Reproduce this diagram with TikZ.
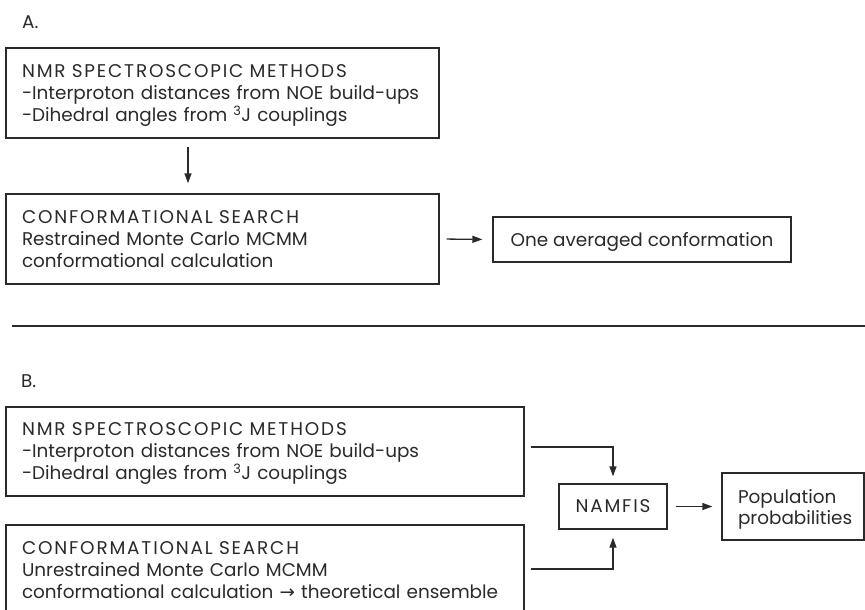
\documentclass[tikz,border=0pt]{standalone}
\usepackage{fontspec}
\setmainfont{Poppins}
\newfontfamily\capsfont{Poppins}[LetterSpace=10]
\newfontfamily\symfont{DejaVu Sans}
\usetikzlibrary{arrows.meta,calc}
\definecolor{ink}{HTML}{2A2A2A}
\newcommand{\nodepth}[1]{\raisebox{0pt}[\height][0pt]{#1}}
\begin{document}
\begin{tikzpicture}[x=1pt,y=-1pt,
  every node/.style={text=ink,font=\fontsize{18.4}{22}\selectfont},
  box/.style={draw=ink,line width=1.3pt,inner xsep=0pt,inner ysep=0pt},
  lbox/.style={box,align=left},
  cbox/.style={box,align=center},
  arr/.style={draw=ink,line width=1.3pt,-{Triangle[length=10pt,width=7pt]}}]
\clip (0,0) rectangle (865,610);
\fill[white] (0,0) rectangle (865,610);
\node[anchor=base west,inner sep=0pt] (la) at (22,29) {A.};
\node[lbox,text width=401pt,minimum width=433pt,minimum height=90pt] (A1) at (222.5,93)
  {\mbox{\capsfont NMR SPECTROSCOPIC METHODS}\\\mbox{-Interproton distances from NOE build-ups}\\\nodepth{-Dihedral angles from \textsuperscript{3}J couplings}};
\node[lbox,text width=401pt,minimum width=433pt,minimum height=90pt] (A2) at (222.5,239)
  {\mbox{\capsfont CONFORMATIONAL SEARCH}\\\mbox{Restrained Monte Carlo MCMM}\\\mbox{conformational calculation}};
\node[cbox,text depth=0pt,minimum width=298pt,minimum height=45pt] (A3) at (642,239.5) {One averaged conformation};
\draw[arr,shorten <=8pt,shorten >=10pt] ([xshift=-34.5pt]A1.south) -- ([xshift=-34.5pt]A2.north);
\draw[arr,shorten <=7pt,shorten >=10pt] (A2.east) -- (A3.west);
\coordinate (s1) at (12,326);
\coordinate (s2) at (865,326);
\draw[ink,line width=1.3pt] (s1) -- (s2);
\node[anchor=base west,inner sep=0pt] (lb) at (21,387) {B.};
\node[lbox,text width=486pt,minimum width=518pt,minimum height=89pt] (B1) at (265,451.5)
  {\mbox{\capsfont NMR SPECTROSCOPIC METHODS}\\\mbox{-Interproton distances from NOE build-ups}\\\nodepth{-Dihedral angles from \textsuperscript{3}J couplings}};
\node[lbox,text width=486pt,minimum width=518pt,minimum height=90pt] (B2) at (265,570)
  {\mbox{\capsfont CONFORMATIONAL SEARCH}\\\mbox{Unrestrained Monte Carlo MCMM}\\\mbox{conformational calculation {\symfont →} theoretical ensemble}};
\node[cbox,minimum width=108pt,minimum height=45pt] (N) at (613,506.5) {\capsfont NAMFIS};
\node[lbox,text width=110pt,minimum width=142pt,minimum height=67pt] (P) at (793,506.5)
  {Population\\[-1pt]\nodepth{probabilities}};
\draw[arr,shorten >=7pt] ($(B1.east)+(6,-4.5)$) -| (N.north);
\draw[arr,shorten >=8pt] ($(B2.east)+(6,-1)$) -| (N.south);
\draw[arr,shorten <=8pt,shorten >=9pt] (N.east) -- (P.west);
\end{tikzpicture}
\end{document}
